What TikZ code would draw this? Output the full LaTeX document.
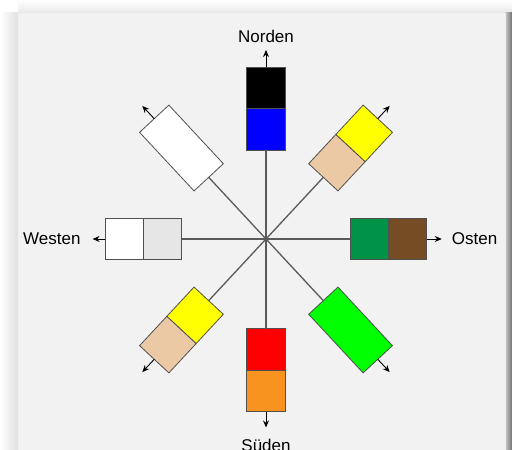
\documentclass[tikz,border=0pt]{standalone}
\usepackage{fontspec}
\setmainfont{Liberation Sans}
\usetikzlibrary{arrows.meta,calc}
\definecolor{panel}{HTML}{F2F2F2}
\definecolor{edge}{HTML}{505050}
\definecolor{raygray}{HTML}{5A5A5A}
\definecolor{cblue}{HTML}{0000FF}
\definecolor{cyellow}{HTML}{FFFF00}
\definecolor{ctan}{HTML}{EBC9A5}
\definecolor{cdgreen}{HTML}{009245}
\definecolor{cbrown}{HTML}{754C24}
\definecolor{clgray}{HTML}{E6E6E6}
\definecolor{cgreen}{HTML}{00FF00}
\definecolor{cred}{HTML}{FF0000}
\definecolor{corange}{HTML}{F7931E}
\begin{document}
\begin{tikzpicture}[x=1pt,y=1pt,
  half/.style={draw=edge, line width=0.8pt, inner sep=0pt, outer sep=0pt},
  ray/.style={draw=raygray, line width=1.3pt},
  outarrow/.style={draw=black, line width=0.9pt, -{Stealth[length=7pt,width=6pt]}},
  lbl/.style={font=\fontsize{17}{20}\selectfont, inner sep=0pt}]
\useasboundingbox (0,0) rectangle (512,450);
% background and shadows
\fill[white] (0,0) rectangle (512,450);
\fill[left color=white, right color=black!12] (0,0) rectangle (18,437);
\fill[top color=white, bottom color=black!9] (18,437) rectangle (512,450);
\fill[left color=black!20, right color=black!55] (505,0) rectangle (512,437);
\fill[panel] (18,0) rectangle (505,437);
\draw[black!6, line width=0.8pt] (18,-2) -- (18,437) -- (505,437) -- (505,-2);
\coordinate (C) at (266,211);
% North
\node[half, fill=cblue, minimum width=41.5, minimum height=39, rotate=90] (nI) at ($(C)+(90:109.75)$) {};
\node[half, fill=black, minimum width=41.5, minimum height=39, rotate=90] (nO) at ($(C)+(90:151.25)$) {};
% South
\node[half, fill=cred, minimum width=41.5, minimum height=39, rotate=270] (sI) at ($(C)+(270:110.5)$) {};
\node[half, fill=corange, minimum width=41.5, minimum height=39, rotate=270] (sO) at ($(C)+(270:152)$) {};
% East
\node[half, fill=cdgreen, minimum width=38.3, minimum height=41.3, rotate=0] (eI) at ($(C)+(0:103.3)$) {};
\node[half, fill=cbrown, minimum width=38.3, minimum height=41.3, rotate=0] (eO) at ($(C)+(0:141.6)$) {};
% West
\node[half, fill=clgray, minimum width=38.3, minimum height=41.3, rotate=180] (wI) at ($(C)+(180:103.45)$) {};
\node[half, fill=white, minimum width=38.3, minimum height=41.3, rotate=180] (wO) at ($(C)+(180:141.75)$) {};
% North-east
\node[half, fill=ctan, minimum width=40, minimum height=40, rotate=47.1] (neI) at ($(C)+(47.1:104.2)$) {};
\node[half, fill=cyellow, minimum width=40, minimum height=40, rotate=47.1] (neO) at ($(C)+(47.1:144.2)$) {};
% North-west
\node[half, fill=white, minimum width=80, minimum height=40, rotate=132.9] (nw) at ($(C)+(132.9:124.2)$) {};
% South-west
\node[half, fill=cyellow, minimum width=40, minimum height=40, rotate=227.1] (swI) at ($(C)+(227.1:104.2)$) {};
\node[half, fill=ctan, minimum width=40, minimum height=40, rotate=227.1] (swO) at ($(C)+(227.1:144.2)$) {};
% South-east
\node[half, fill=cgreen, minimum width=80, minimum height=40, rotate=312.9] (se) at ($(C)+(312.9:124.2)$) {};
% rays
\draw[ray] (C) -- (nI.west);
\draw[ray] (C) -- (sI.west);
\draw[ray] (C) -- (eI.west);
\draw[ray] (C) -- (wI.west);
\draw[ray] (C) -- (neI.west);
\draw[ray] (C) -- (nw.west);
\draw[ray] (C) -- (swI.west);
\draw[ray] (C) -- (se.west);
% outward arrows
\coordinate (nT) at ($(nO.east)+(90:17)$);
\coordinate (sT) at ($(sO.east)+(270:15.7)$);
\coordinate (eT) at ($(eO.east)+(0:15)$);
\coordinate (wT) at ($(wO.east)+(180:12.5)$);
\coordinate (neT) at ($(neO.east)+(47.1:17.5)$);
\coordinate (nwT) at ($(nw.east)+(132.9:17.5)$);
\coordinate (swT) at ($(swO.east)+(227.1:17.5)$);
\coordinate (seT) at ($(se.east)+(312.9:17.5)$);
\foreach \a/\b in {nO/nT,sO/sT,eO/eT,wO/wT,neO/neT,nw/nwT,swO/swT,se/seT}
  \draw[outarrow] (\a.east) -- (\b);
% labels
\node[lbl, anchor=base] (lN) at (266,407) {Norden};
\node[lbl, anchor=base] (lS) at (266,-2) {Süden};
\node[lbl, anchor=base east] (lW) at (80.7,205.3) {Westen};
\node[lbl, anchor=base west] (lE) at (451.7,205.3) {Osten};
\end{tikzpicture}
\end{document}
